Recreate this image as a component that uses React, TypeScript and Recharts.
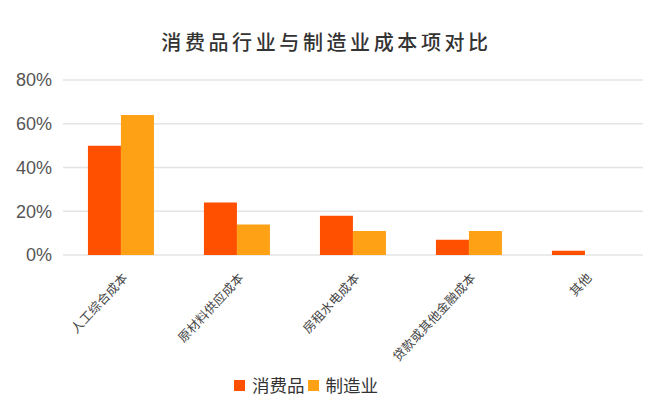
import React from "react";
import { BarChart, Bar, XAxis, YAxis, CartesianGrid } from "recharts";

const categories = ["人工综合成本", "原材料供应成本", "房租水电成本", "贷款或其他金融成本", "其他"];
const consumerValues = [50, 24, 18, 7, 2];
const manufacturingValues = [64, 14, 11, 11, 0];
const yTicks = [0, 20, 40, 60, 80];
const seriesNames = ["消费品", "制造业"];
const title = "消费品行业与制造业成本项对比";

const COLORS = ["#FF5000", "#FFA114"];

const data = categories.map((c, i) => ({
  name: c,
  consumer: consumerValues[i],
  manufacturing: manufacturingValues[i],
}));

const XTick = (props: any) => {
  const { x, y, payload } = props;
  return (
    <g transform={`translate(${x + 5},${y + 13})`}>
      <text
        x={0}
        y={0}
        transform="rotate(-47)"
        textAnchor="end"
        fontSize={12.5}
        fill="#444"
        letterSpacing={0.2}
        fontFamily="'Noto Sans CJK SC', sans-serif"
        dominantBaseline="middle"
      >
        {payload.value}
      </text>
    </g>
  );
};

export default function App() {
  return (
    <div style={{ position: "absolute", left: 0, top: 0, width: 653, height: 407, background: "#fff" }}>
      <div
        style={{
          position: "absolute",
          left: 0,
          width: 653,
          top: 29,
          textAlign: "center",
          fontFamily: "'Noto Sans CJK SC', sans-serif",
          fontSize: 20,
          fontWeight: 500,
          letterSpacing: 3.6,
          color: "#333",
          lineHeight: "26px",
          paddingLeft: 0,
        }}
      >
        {title}
      </div>
      <BarChart
        width={653}
        height={407}
        data={data}
        margin={{ top: 80, right: 10, bottom: 52, left: 0 }}
        barCategoryGap="21.5%"
        barGap={0}
      >
        <CartesianGrid vertical={false} stroke="#e4e4e4" strokeWidth={1.5} />
        <XAxis
          dataKey="name"
          axisLine={false}
          tickLine={false}
          interval={0}
          tick={<XTick />}
          height={100}
        />
        <YAxis
          width={63}
          domain={[0, 80]}
          ticks={yTicks}
          interval={0}
          axisLine={false}
          tickLine={false}
          tickMargin={5}
          tickFormatter={(v: number) => `${v}%`}
          tick={{ fontSize: 18, fill: "#555", fontFamily: "'Liberation Sans', Arial, sans-serif" }}
        />
        <Bar dataKey="consumer" name={seriesNames[0]} fill={COLORS[0]} isAnimationActive={false} />
        <Bar dataKey="manufacturing" name={seriesNames[1]} fill={COLORS[1]} isAnimationActive={false} />
      </BarChart>
      <div
        style={{
          position: "absolute",
          left: 234,
          top: 374,
          display: "flex",
          alignItems: "center",
          fontFamily: "'Noto Sans CJK SC', sans-serif",
          fontSize: 17.5,
          color: "#333",
        }}
      >
        {seriesNames.map((n, i) => (
          <div key={n} style={{ display: "flex", alignItems: "center", marginRight: i === 0 ? 3 : 0 }}>
            <span style={{ display: "inline-block", width: 11, height: 11, background: COLORS[i], marginRight: 7 }} />
            <span style={{ lineHeight: "22px" }}>{n}</span>
          </div>
        ))}
      </div>
    </div>
  );
}
